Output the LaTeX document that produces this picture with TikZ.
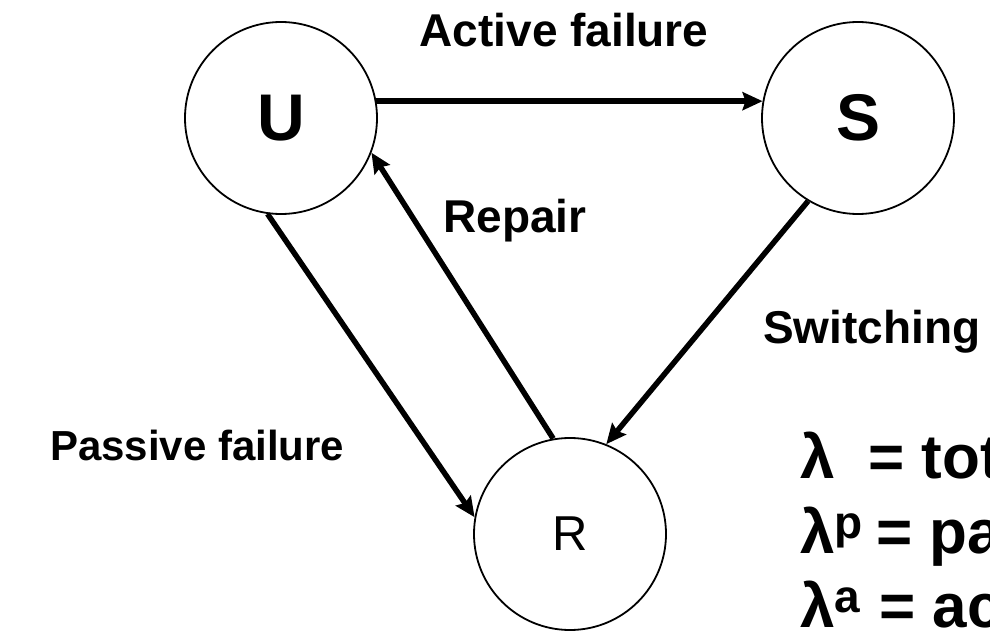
\documentclass[tikz,border=0pt]{standalone}
\usepackage{fontspec}
\setmainfont{Liberation Sans}
\usetikzlibrary{arrows.meta}
\tikzset{
  >={Stealth[length=20pt,width=18pt,inset=3pt]},
  arr/.style={->,draw=black,line width=5.5pt},
  state/.style={circle,draw=black,line width=1.8pt,minimum size=192pt,inner sep=0pt},
}
\newcommand{\lblfont}{\fontsize{46}{55}\selectfont\bfseries}
\newcommand{\keyfont}{\fontsize{62}{74}\selectfont\bfseries}
\newcommand{\lamidx}[1]{{\fontsize{46}{46}\selectfont\raisebox{15pt}{#1}}}

\begin{document}
\begin{tikzpicture}[x=1pt,y=-1pt,
  lbl/.style={inner sep=0pt,font=\lblfont},
  keyline/.style={inner sep=0pt,font=\keyfont,anchor=base west},
]
  \clip (0,0) rectangle (990,631);

  % states
  \node[state,font=\fontsize{66}{70}\selectfont\bfseries] (U) at (281,118) {U};
  \node[state,font=\fontsize{66}{70}\selectfont\bfseries] (S) at (858,118) {S};
  \node[state,font=\fontsize{49}{55}\selectfont] (R) at (570,534) {R};

  % transitions
  \draw[arr] (U.10) -- (S.170);
  \draw[arr] (R.100) -- (U.-21);
  \draw[arr] (U.-98) -- (R.170);
  \draw[arr] (S.-121) -- (R.68);

  % labels
  \node[lbl,anchor=base] (lact) at (564,47) {Active failure};
  \node[lbl,anchor=base] (lrep) at (515,232) {Repair};
  \node[lbl,anchor=base west] (lsw) at (763,343) {Switching};
  \node[lbl,anchor=base west,font=\fontsize{42}{50}\selectfont\bfseries] (lpas) at (50,460) {Passive failure};

  % key
  \node[keyline] (k1) at (800,478) {\makebox[68pt][l]{λ}= tot};
  \node[keyline] (k2) at (800,553) {\makebox[76pt][l]{λ\lamidx{p}}= pa};
  \node[keyline] (k3) at (800,627) {\makebox[79pt][l]{λ\lamidx{a}}= ac};
\end{tikzpicture}
\end{document}
